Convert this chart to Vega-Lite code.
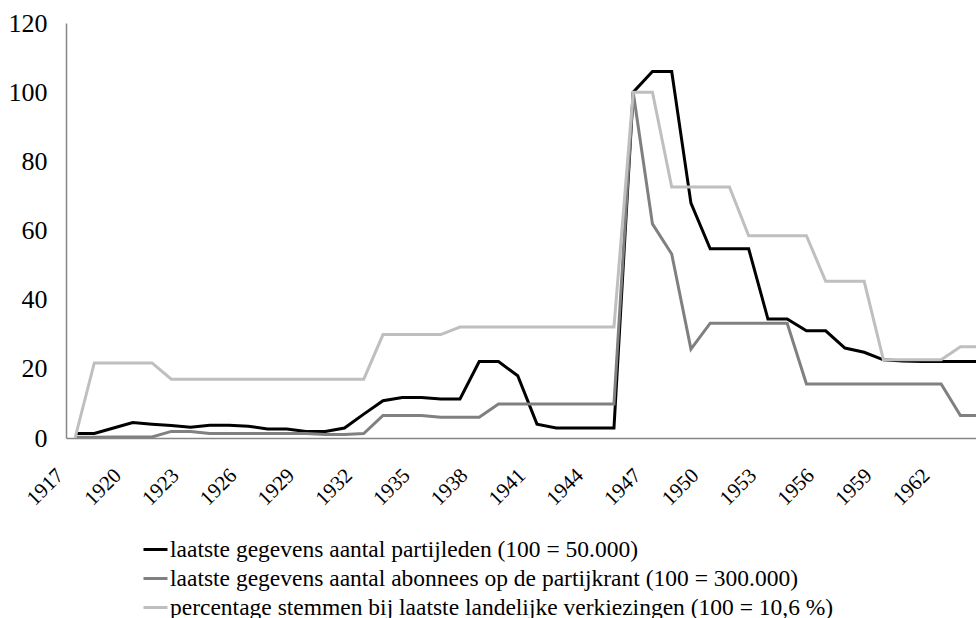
{
  "$schema": "https://vega.github.io/schema/vega-lite/v6.json",
  "width": 910,
  "height": 415,
  "autosize": {"type": "none"},
  "padding": {"left": 66, "top": 23, "right": 0, "bottom": 180},
  "background": "white",
  "config": {"view": {"stroke": null}, "font": "Liberation Serif"},
  "data": {"values": [
    {"jaar": 1917, "leden": 1.3, "abonnees": 0.2, "stemmen": 0},
    {"jaar": 1918, "leden": 1.3, "abonnees": 0.2, "stemmen": 21.7},
    {"jaar": 1919, "leden": 2.9, "abonnees": 0.3, "stemmen": 21.7},
    {"jaar": 1920, "leden": 4.5, "abonnees": 0.3, "stemmen": 21.7},
    {"jaar": 1921, "leden": 4.0, "abonnees": 0.3, "stemmen": 21.7},
    {"jaar": 1922, "leden": 3.6, "abonnees": 1.9, "stemmen": 17.0},
    {"jaar": 1923, "leden": 3.1, "abonnees": 1.9, "stemmen": 17.0},
    {"jaar": 1924, "leden": 3.7, "abonnees": 1.3, "stemmen": 17.0},
    {"jaar": 1925, "leden": 3.7, "abonnees": 1.3, "stemmen": 17.0},
    {"jaar": 1926, "leden": 3.4, "abonnees": 1.3, "stemmen": 17.0},
    {"jaar": 1927, "leden": 2.6, "abonnees": 1.3, "stemmen": 17.0},
    {"jaar": 1928, "leden": 2.6, "abonnees": 1.3, "stemmen": 17.0},
    {"jaar": 1929, "leden": 1.9, "abonnees": 1.3, "stemmen": 17.0},
    {"jaar": 1930, "leden": 1.9, "abonnees": 1.0, "stemmen": 17.0},
    {"jaar": 1931, "leden": 2.9, "abonnees": 1.0, "stemmen": 17.0},
    {"jaar": 1932, "leden": 6.9, "abonnees": 1.3, "stemmen": 17.0},
    {"jaar": 1933, "leden": 10.8, "abonnees": 6.5, "stemmen": 29.9},
    {"jaar": 1934, "leden": 11.7, "abonnees": 6.5, "stemmen": 29.9},
    {"jaar": 1935, "leden": 11.7, "abonnees": 6.5, "stemmen": 29.9},
    {"jaar": 1936, "leden": 11.3, "abonnees": 6.0, "stemmen": 29.9},
    {"jaar": 1937, "leden": 11.3, "abonnees": 6.0, "stemmen": 32.1},
    {"jaar": 1938, "leden": 22.1, "abonnees": 6.0, "stemmen": 32.1},
    {"jaar": 1939, "leden": 22.1, "abonnees": 9.8, "stemmen": 32.1},
    {"jaar": 1940, "leden": 18.0, "abonnees": 9.8, "stemmen": 32.1},
    {"jaar": 1941, "leden": 4.0, "abonnees": 9.8, "stemmen": 32.1},
    {"jaar": 1942, "leden": 2.9, "abonnees": 9.8, "stemmen": 32.1},
    {"jaar": 1943, "leden": 2.9, "abonnees": 9.8, "stemmen": 32.1},
    {"jaar": 1944, "leden": 2.9, "abonnees": 9.8, "stemmen": 32.1},
    {"jaar": 1945, "leden": 2.9, "abonnees": 9.8, "stemmen": 32.1},
    {"jaar": 1946, "leden": 100, "abonnees": 100, "stemmen": 100},
    {"jaar": 1947, "leden": 106, "abonnees": 61.9, "stemmen": 100},
    {"jaar": 1948, "leden": 106, "abonnees": 53.2, "stemmen": 72.6},
    {"jaar": 1949, "leden": 67.9, "abonnees": 25.7, "stemmen": 72.6},
    {"jaar": 1950, "leden": 54.7, "abonnees": 33.2, "stemmen": 72.6},
    {"jaar": 1951, "leden": 54.7, "abonnees": 33.2, "stemmen": 72.6},
    {"jaar": 1952, "leden": 54.7, "abonnees": 33.2, "stemmen": 58.5},
    {"jaar": 1953, "leden": 34.4, "abonnees": 33.2, "stemmen": 58.5},
    {"jaar": 1954, "leden": 34.4, "abonnees": 33.2, "stemmen": 58.5},
    {"jaar": 1955, "leden": 31.0, "abonnees": 15.6, "stemmen": 58.5},
    {"jaar": 1956, "leden": 31.0, "abonnees": 15.6, "stemmen": 45.3},
    {"jaar": 1957, "leden": 26.0, "abonnees": 15.6, "stemmen": 45.3},
    {"jaar": 1958, "leden": 24.8, "abonnees": 15.6, "stemmen": 45.3},
    {"jaar": 1959, "leden": 22.6, "abonnees": 15.6, "stemmen": 22.6},
    {"jaar": 1960, "leden": 22.3, "abonnees": 15.6, "stemmen": 22.6},
    {"jaar": 1961, "leden": 22.1, "abonnees": 15.6, "stemmen": 22.6},
    {"jaar": 1962, "leden": 22.1, "abonnees": 15.6, "stemmen": 22.6},
    {"jaar": 1963, "leden": 22.1, "abonnees": 6.5, "stemmen": 26.4},
    {"jaar": 1964, "leden": 22.1, "abonnees": 6.5, "stemmen": 26.4}
  ]},
  "transform": [
    {"fold": ["leden", "abonnees", "stemmen"], "as": ["reeks", "waarde"]}
  ],
  "mark": {"type": "line", "strokeWidth": 3, "clip": true},
  "encoding": {
    "x": {
      "field": "jaar", "type": "quantitative",
      "scale": {"domain": [1916.53, 1963.81], "nice": false, "zero": false},
      "axis": {
        "title": null,
        "values": [1917, 1920, 1923, 1926, 1929, 1932, 1935, 1938, 1941, 1944, 1947, 1950, 1953, 1956, 1959, 1962],
        "format": "d",
        "labelAngle": -45,
        "labelAlign": "right",
        "labelBaseline": "middle",
        "labelPadding": 34,
        "labelOffset": -15,
        "labelFontSize": 21,
        "labelColor": "#000000",
        "labelFont": "Liberation Serif",
        "labelOverlap": false,
        "labelFlush": false,
        "ticks": false,
        "grid": false,
        "domainColor": "#868686",
        "domainWidth": 1.5
      }
    },
    "y": {
      "field": "waarde", "type": "quantitative",
      "scale": {"domain": [0, 120], "nice": false},
      "axis": {
        "title": null,
        "values": [0, 20, 40, 60, 80, 100, 120],
        "labelFontSize": 26,
        "labelColor": "#000000",
        "labelFont": "Liberation Serif",
        "labelPadding": 19,
        "ticks": false,
        "grid": false,
        "domainColor": "#868686",
        "domainWidth": 1.5
      }
    },
    "color": {
      "field": "reeks", "type": "nominal",
      "scale": {"domain": ["leden", "abonnees", "stemmen"], "range": ["#000000", "#808080", "#bfbfbf"]},
      "legend": {
        "title": null,
        "orient": "none",
        "legendX": 76,
        "legendY": 513,
        "direction": "vertical",
        "symbolType": "stroke",
        "symbolSize": 576,
        "symbolStrokeWidth": 3,
        "labelFontSize": 23.5,
        "labelFont": "Liberation Serif",
        "labelColor": "#000000",
        "labelLimit": 0,
        "labelOffset": 1,
        "rowPadding": 4,
        "labelExpr": "datum.value == 'leden' ? 'laatste gegevens aantal partijleden (100 = 50.000)' : datum.value == 'abonnees' ? 'laatste gegevens aantal abonnees op de partijkrant (100 = 300.000)' : 'percentage stemmen bij laatste landelijke verkiezingen (100 = 10,6 %)'"
      }
    },
    "order": {"field": "jaar", "type": "quantitative"}
  }
}
